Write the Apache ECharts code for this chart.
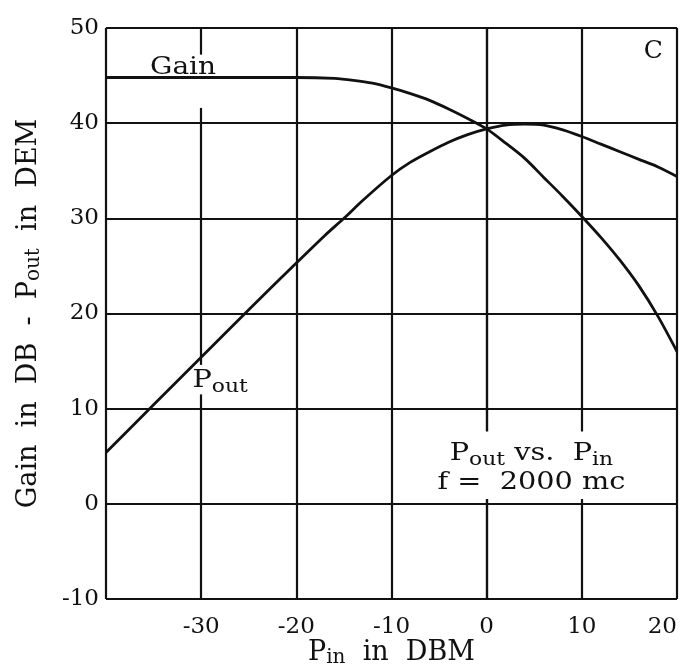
<!DOCTYPE html>
<html>
<head>
<meta charset="utf-8">
<script src="https://cdn.jsdelivr.net/npm/echarts@6/dist/echarts.min.js"></script>
<style>
html, body { margin: 0; background: #fff; }
#chart { width: 684px; height: 669px; }
</style>
</head>
<body>
<div id="chart"></div>
<script>
// Pin (dBm) sampled along each curve
const gainPin  = [-40, -30, -20, -16, -14, -12, -10, -8, -6, -4, -2, 0, 2, 4, 6, 8, 10, 12, 14, 16, 18, 20];
const gainDb   = [44.8, 44.8, 44.8, 44.7, 44.5, 44.2, 43.7, 43.1, 42.4, 41.5, 40.5, 39.4, 37.9, 36.3, 34.3, 32.3, 30.2, 28.0, 25.6, 22.9, 19.7, 16.0];
const poutPin  = [-40, -35, -30, -25, -20, -17, -15, -13, -10, -8, -6, -4, -2, 0, 2, 4, 6, 8, 10, 12, 14, 16, 18, 20];
const poutDbm  = [5.4, 10.4, 15.4, 20.4, 25.3, 28.2, 30.0, 31.9, 34.5, 35.9, 37.0, 38.0, 38.8, 39.4, 39.8, 39.9, 39.8, 39.3, 38.6, 37.8, 37.0, 36.2, 35.4, 34.4];
const xTicks = [-40, -30, -20, -10, 0, 10, 20];
const yTicks = [-10, 0, 10, 20, 30, 40, 50];

const FONT = 'DejaVu Serif';
const INK = '#111';

function pairs(xs, ys) {
  return xs.map((x, i) => [x, ys[i]]);
}

const nameRich = {
  n: { fontFamily: FONT, fontSize: 27, color: INK, lineHeight: 30 },
  s: { fontFamily: FONT, fontSize: 20, color: INK, padding: [11, 0, 0, 0] }
};

const chart = echarts.init(document.getElementById('chart'));

const option = {
  backgroundColor: '#fff',
  animation: false,
  grid: { left: 106, right: 7, top: 28, bottom: 70, outerBoundsMode: 'none' },
  xAxis: {
    type: 'value',
    min: xTicks[0],
    max: xTicks[xTicks.length - 1],
    interval: 10,
    name: '{n|P}{s|in}{n|  in  DBM}',
    nameLocation: 'middle',
    nameGap: 38,
    nameMoveOverlap: false,
    nameTextStyle: { rich: nameRich },
    axisLine: { lineStyle: { color: INK, width: 2.2 } },
    axisTick: { show: false },
    axisLabel: {
      fontFamily: FONT, fontSize: 23, color: INK, margin: 17,
      alignMaxLabel: 'right',
      formatter: v => (v === xTicks[0] ? '' : String(v))
    },
    splitLine: { show: true, lineStyle: { color: INK, width: 2.2 } }
  },
  yAxis: {
    type: 'value',
    min: yTicks[0],
    max: yTicks[yTicks.length - 1],
    interval: 10,
    name: '{n|Gain  in  DB  -  P}{s|out}{n|  in  DEM}',
    nameLocation: 'middle',
    nameRotate: 90,
    nameGap: 62,
    nameMoveOverlap: false,
    nameTextStyle: { rich: nameRich },
    axisLine: { lineStyle: { color: INK, width: 2.2 } },
    axisTick: { show: false },
    axisLabel: { fontFamily: FONT, fontSize: 23, color: INK, margin: 7 },
    splitLine: { show: true, lineStyle: { color: INK, width: 2.2 } }
  },
  series: [
    {
      name: 'Gain',
      type: 'line',
      data: pairs(gainPin, gainDb),
      smooth: 0.3,
      symbol: 'none',
      lineStyle: { color: INK, width: 2.8 },
      z: 3
    },
    {
      name: 'Pout',
      type: 'line',
      data: pairs(poutPin, poutDbm),
      smooth: 0.3,
      symbol: 'none',
      lineStyle: { color: INK, width: 2.8 },
      z: 3
    }
  ]
};

chart.setOption(option);

// labels placed in data coordinates
const px = (x, y) => chart.convertToPixel({ gridIndex: 0 }, [x, y]);
const gainLbl = px(-31.9, 45.9);
const poutLbl = px(-28.0, 13.0);
const noteTop = px(4.7, 5.3);
const noteBot = px(4.7, 2.2);
const cMark = px(17.5, 47.5);
const gapA = px(-30, 47.2);
const gapB = px(-30, 41.6);
const gapC = px(-30, 14.6);
const gapD = px(-30, 11.5);
const boxA = px(-5.4, 7.6);
const boxB = px(15.4, 0.5);

const rich = {
  n: { fontFamily: FONT, fontSize: 25, fill: INK, lineHeight: 30 },
  s: { fontFamily: FONT, fontSize: 19, fill: INK, padding: [13, 0, 0, 0] }
};
const plain = '25px "DejaVu Serif"';

chart.setOption({
  graphic: [
    // gaps in the grid under the labels
    { type: 'rect', z: 1, shape: { x: gapA[0] - 5, y: gapA[1], width: 10, height: gapB[1] - gapA[1] }, style: { fill: '#fff' } },
    { type: 'rect', z: 1, shape: { x: gapC[0] - 5, y: gapC[1], width: 10, height: gapD[1] - gapC[1] }, style: { fill: '#fff' } },
    { type: 'rect', z: 1, shape: { x: boxA[0], y: boxA[1], width: boxB[0] - boxA[0], height: boxB[1] - boxA[1] }, style: { fill: '#fff' } },
    { type: 'text', z: 5, x: gainLbl[0], y: gainLbl[1], scaleX: 1.12, style: { text: 'Gain', font: plain, fill: INK, align: 'center', verticalAlign: 'middle' } },
    { type: 'text', z: 5, x: poutLbl[0], y: poutLbl[1], scaleX: 1.15, style: { text: '{n|P}{s|out}', rich: rich, align: 'center', verticalAlign: 'middle' } },
    { type: 'text', z: 5, x: noteTop[0], y: noteTop[1], scaleX: 1.15, style: { text: '{n|P}{s|out}{n| vs.  P}{s|in}', rich: rich, align: 'center', verticalAlign: 'middle' } },
    { type: 'text', z: 5, x: noteBot[0], y: noteBot[1], scaleX: 1.15, style: { text: 'f =  2000 mc', font: plain, fill: INK, align: 'center', verticalAlign: 'middle' } },
    { type: 'text', z: 5, x: cMark[0], y: cMark[1], style: { text: 'C', font: plain, fill: INK, align: 'center', verticalAlign: 'middle' } }
  ]
});
</script>
</body>
</html>
